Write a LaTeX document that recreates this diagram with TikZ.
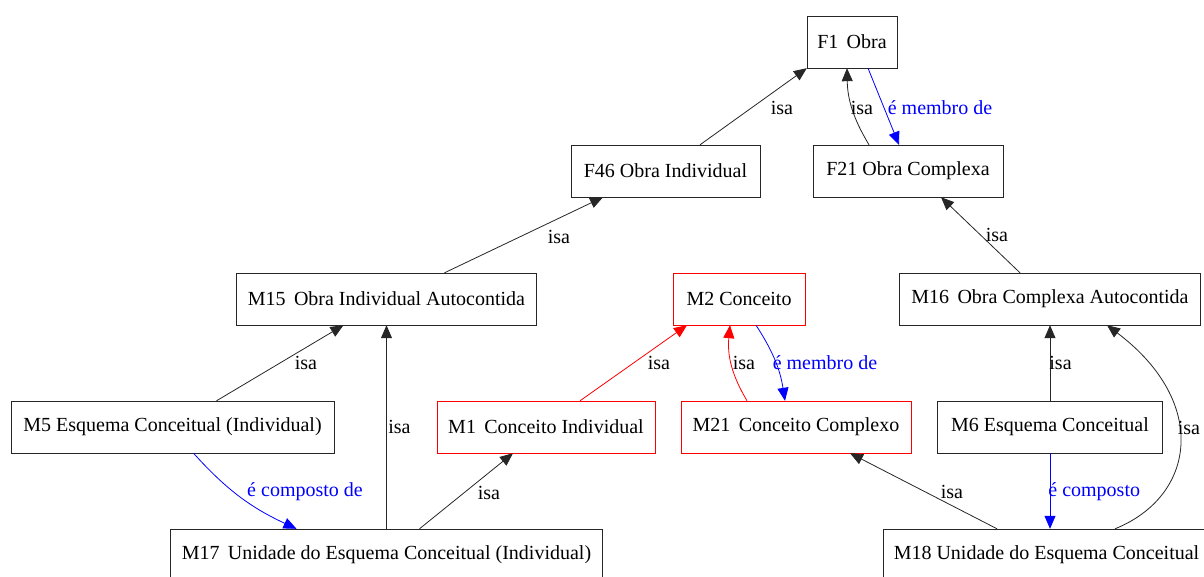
\documentclass[tikz,border=0pt]{standalone}
\usepackage{fontspec}
\setmainfont{Liberation Serif}
\usetikzlibrary{arrows.meta}
\tikzset{
  bx/.style={draw=black!85, rectangle, minimum height=52pt, inner sep=0pt, font=\fontsize{20}{22}\selectfont},
  cpt/.style={bx, draw=red},
  arr/.style={-{Triangle[length=13pt,width=11pt]}, line width=0.8pt, color=black!85},
  arrR/.style={arr, color=red},
  arrB/.style={arr, color=blue},
  lbl/.style={font=\fontsize{20}{22}\selectfont, inner sep=0pt, text=black},
  lblB/.style={lbl, text=blue},
}

\begin{document}
\begin{tikzpicture}[x=1pt, y=1pt]
  \useasboundingbox (0,0) rectangle (1204,-577);
  \node[bx, minimum width=90pt] (f1) at (852,-42) {F1\, Obra};
  \node[bx, minimum width=189pt] (f46) at (665.5,-171) {F46 Obra Individual};
  \node[bx, minimum width=190pt] (f21) at (908,-171) {F21 Obra Complexa};
  \node[bx, minimum width=300pt] (m15) at (386.5,-299) {M15\, Obra Individual Autocontida};
  \node[cpt, minimum width=132pt] (m2) at (739,-299) {M2 Conceito};
  \node[bx, minimum width=301pt] (m16) at (1050,-299) {M16\, Obra Complexa Autocontida};
  \node[bx, minimum width=323pt] (m5) at (172.5,-427) {M5 Esquema Conceitual (Individual)};
  \node[cpt, minimum width=218pt] (m1) at (546,-427) {M1\, Conceito Individual};
  \node[cpt, minimum width=230pt] (m21) at (796,-427) {M21\, Conceito Complexo};
  \node[bx, minimum width=225pt] (m6) at (1050,-427) {M6 Esquema Conceitual};
  \node[bx, minimum width=432pt] (m17) at (386.5,-555) {M17\, Unidade do Esquema Conceitual (Individual)};
  \node[bx, minimum width=327pt] (m18) at (1046.5,-555) {M18 Unidade do Esquema Conceitual};

  \draw[arr] ([xshift=34.5pt]f46.north) -- (f1.south west) node[lbl] at (782,-108) {isa};
  \draw[arr] ([xshift=-39pt]f21.north) to[bend left=15] ([xshift=-5pt]f1.south) node[lbl] at (862,-108) {isa};
  \draw[arrB] ([xshift=16pt]f1.south) -- ([xshift=-9pt]f21.north) node[lblB] at (940,-108) {é membro de};
  \draw[arr] ([xshift=58pt]m15.north) -- ([xshift=-62.5pt]f46.south) node[lbl] at (559,-237) {isa};
  \draw[arr] ([xshift=-30pt]m16.north) -- ([xshift=33pt]f21.south) node[lbl] at (997,-235) {isa};

  \draw[arrR] ([xshift=34pt]m1.north) -- ([xshift=-52pt]m2.south) node[lbl] at (659,-363) {isa};
  \draw[arrR] ([xshift=-49pt]m21.north) to[bend left=18] ([xshift=-9pt]m2.south) node[lbl] at (744,-363) {isa};
  \draw[arrB] ([xshift=17pt]m2.south) to[bend left=12] ([xshift=-11pt]m21.north) node[lblB] at (825,-363) {é membro de};

  \draw[arr] ([xshift=44pt]m5.north) -- ([xshift=-43pt]m15.south) node[lbl] at (306,-363) {isa};
  \draw[arr] (m17.north) -- (m15.south) node[lbl, anchor=west] at (388,-427) {isa};
  \draw[arrB] ([xshift=21pt]m5.south) to[out=-48, in=155] ([xshift=-90pt]m17.north) node[lblB] at (305,-492) {é composto de};
  \draw[arr] ([xshift=33pt]m17.north) -- ([xshift=-33pt]m1.south) node[lbl] at (489,-493) {isa};

  \draw[arr] (m6.north) -- (m16.south) node[lbl, anchor=west] at (1049,-363) {isa};
  \draw[arrB] (m6.south) -- (m6.south |- m18.north) node[lblB, anchor=west] at (1048,-492) {é composto};
  \draw[arr] ([xshift=-49.5pt]m18.north) -- ([xshift=54pt]m21.south) node[lbl] at (952,-492) {isa};
  \draw[arr] ([xshift=68.5pt]m18.north) to[out=22, in=-37, out looseness=1.1, in looseness=1.6] ([xshift=57pt]m16.south) node[lbl] at (1189,-428) {isa};
\end{tikzpicture}
\end{document}
